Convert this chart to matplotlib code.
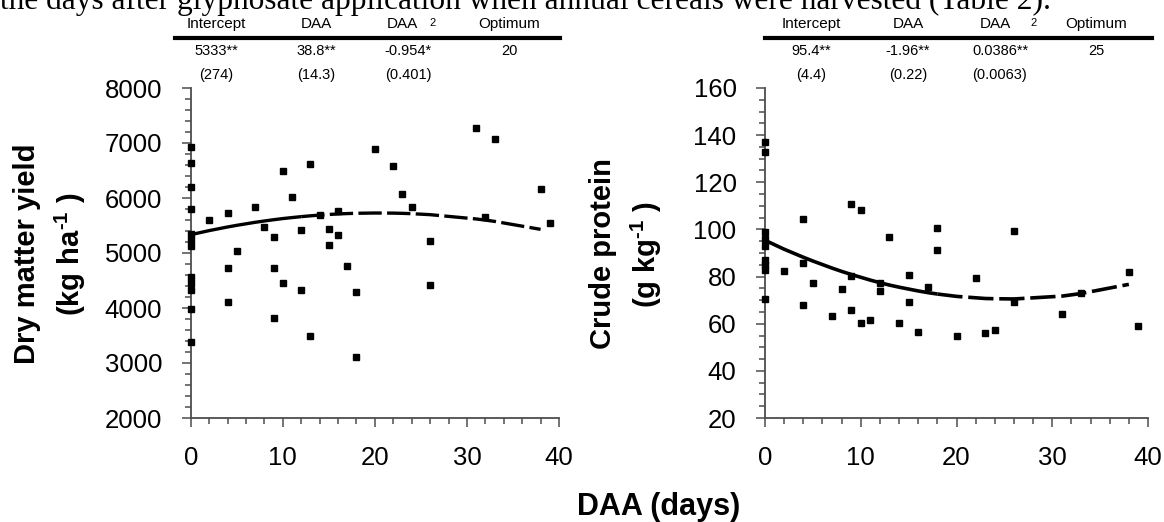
import matplotlib
matplotlib.use('Agg')
import matplotlib.pyplot as plt
from matplotlib.ticker import MultipleLocator
from matplotlib.lines import Line2D

W, H = 1164, 522

# dry matter yield (kg/ha) vs days after application
dm_days = [0, 0, 0, 0, 0, 0, 0, 0, 0, 0, 0, 0,
           2, 4, 4, 4, 5, 7, 8, 9, 9, 9, 10, 10, 11, 12, 12, 13, 13, 14, 15, 15,
           16, 16, 17, 18, 18, 20, 22, 23, 24, 26, 26, 31, 32, 33, 38, 39]
dm_yield = [6930, 6640, 6200, 5800, 5340, 5230, 5120, 4560, 4450, 4330, 3980, 3390,
            5600, 5730, 4725, 4110, 5030, 5840, 5470, 5300, 4725, 3810, 6490, 4450,
            6020, 5410, 4320, 6620, 3490, 5700, 5440, 5140, 5770, 5320, 4755, 4290,
            3110, 6890, 6590, 6070, 5840, 5215, 4410, 7270, 5660, 7080, 6160, 5540]

# crude protein (g/kg)
cp_days = [0, 0, 0, 0, 0, 0, 0, 0, 0,
           2, 4, 4, 4, 5, 7, 8, 9, 9, 9, 10, 10, 11, 12, 12, 13, 14, 15, 15, 16, 17,
           18, 18, 20, 22, 23, 24, 26, 26, 31, 33, 38, 39]
cp_val = [137, 133, 99, 96, 93, 87, 85, 83, 70.5,
          82.5, 104.6, 85.8, 68, 77.3, 63.4, 74.7, 110.9, 80.1, 66, 108.3, 60.3, 61.6,
          77.3, 73.7, 96.9, 60.3, 80.5, 69.2, 56.5, 75.4, 100.8, 91.4, 54.7, 79.4,
          55.9, 57.2, 99.5, 69.2, 64.1, 73, 81.8, 59]

# fitted curves
fit_days_dm = [0, 2, 4, 5, 7, 8, 9, 10, 11, 12, 13, 14, 15, 16, 17, 18, 20, 22, 23, 24,
               26, 31, 32, 33, 38]
fit_dm = [5333, 5407, 5473, 5503, 5558, 5582, 5605, 5626, 5644, 5661, 5676, 5689, 5700,
          5710, 5717, 5722, 5727, 5725, 5721, 5715, 5697, 5619, 5598, 5575, 5430]
fit_days_cp = [0, 2, 4, 5, 7, 8, 9, 10, 11, 12, 13, 14, 15, 16, 17, 18, 20, 22, 23, 24,
               26, 31, 33, 38]
fit_cp = [95.4, 91.6, 88.2, 86.6, 83.6, 82.2, 80.9, 79.7, 78.5, 77.4, 76.4, 75.5, 74.7,
          73.9, 73.2, 72.6, 71.6, 71.0, 70.7, 70.6, 70.5, 71.7, 72.8, 76.7]

# regression tables
tab_head = ['Intercept', 'DAA', 'DAA', 'Optimum']
dm_coef = ['5333**', '38.8**', '-0.954*', '20']
dm_se = ['(274)', '(14.3)', '(0.401)']
cp_coef = ['95.4**', '-1.96**', '0.0386**', '25']
cp_se = ['(4.4)', '(0.22)', '(0.0063)']


def fx(px):
    return px / W


def fy(py):
    return 1 - py / H


SANS = ['Liberation Sans', 'DejaVu Sans']
plt.rcParams['font.family'] = SANS
plt.rcParams['mathtext.fontset'] = 'custom'
plt.rcParams['mathtext.rm'] = 'Liberation Sans:bold'
plt.rcParams['mathtext.bf'] = 'Liberation Sans:bold'

fig = plt.figure(figsize=(W / 100, H / 100), dpi=100)

ax1 = fig.add_axes([fx(190.7), fy(418), fx(559) - fx(190.7), fy(88) - fy(418)])
ax2 = fig.add_axes([fx(765), fy(418), fx(1148) - fx(765), fy(88) - fy(418)])

axc = '#4d4d4d'
for ax in (ax1, ax2):
    for s in ('top', 'right'):
        ax.spines[s].set_visible(False)
    for s in ('left', 'bottom'):
        ax.spines[s].set_color(axc)
        ax.spines[s].set_linewidth(1.3)
    ax.set_xlim(0, 40)
    ax.xaxis.set_major_locator(MultipleLocator(10))
    ax.xaxis.set_minor_locator(MultipleLocator(2))
    ax.tick_params(which='major', direction='out', length=6.5, width=1.1, color=axc,
                   labelsize=18.5, pad=14)
    ax.tick_params(which='minor', direction='out', length=4.2, width=1.1, color=axc)
    ax.patch.set_alpha(0)

ax1.set_ylim(2000, 8000)
ax1.yaxis.set_major_locator(MultipleLocator(1000))
ax1.yaxis.set_minor_locator(MultipleLocator(200))
ax2.set_ylim(20, 160)
ax2.yaxis.set_major_locator(MultipleLocator(20))
ax2.yaxis.set_minor_locator(MultipleLocator(5))

ax1.plot(dm_days, dm_yield, 's', color='black', ms=5, clip_on=False, zorder=3)
ax2.plot(cp_days, cp_val, 's', color='black', ms=5, clip_on=False, zorder=3)

# fitted lines: solid start, long dashes after
ax1.plot(fit_days_dm[:10], fit_dm[:10], '-', color='black', lw=2.4, zorder=4,
         solid_capstyle='butt')
ax1.plot(fit_days_dm[9:], fit_dm[9:], color='black', lw=2.4, zorder=4,
         linestyle=(0, (7, 1.6)), dash_capstyle='butt')
ax2.plot(fit_days_cp[:16], fit_cp[:16], '-', color='black', lw=2.6, zorder=4,
         solid_capstyle='butt')
ax2.plot(fit_days_cp[15:], fit_cp[15:], color='black', lw=2.6, zorder=4,
         linestyle=(0, (7, 1.6)), dash_capstyle='butt')

# axis labels
lab = dict(rotation=90, rotation_mode='anchor', ha='center', va='baseline',
           fontsize=21, fontweight='bold')
fig.text(fx(35), fy(254), 'Dry matter yield', **lab)
fig.text(fx(80), fy(254), r'(kg ha$^{\text{-1}}$ )', **lab)
fig.text(fx(611), fy(254), 'Crude protein', **lab)
fig.text(fx(656), fy(254), r'(g kg$^{\text{-1}}$ )', **lab)
fig.text(fx(577), fy(515), 'DAA (days)', fontsize=22, fontweight='bold',
         ha='left', va='baseline')

# clipped body text at the top
fig.text(fx(0), fy(9), 'the days after glyphosate application when annual cereals '
         'were harvested (Table 2).', family=['Liberation Serif', 'DejaVu Serif'],
         fontsize=22.6, ha='left', va='baseline')


def draw_table(cols, dcol, sup_x, line_x, coef, se):
    for i, h in enumerate(tab_head):
        x = dcol if i == 2 else cols[i]
        fig.text(fx(x), fy(28), h, fontsize=11, ha='center', va='baseline')
    fig.text(fx(sup_x), fy(25.5), '2', fontsize=8, ha='left', va='baseline')
    fig.add_artist(Line2D([fx(line_x[0]), fx(line_x[1])], [fy(38), fy(38)],
                          color='black', lw=3, transform=fig.transFigure))
    for i, c in enumerate(coef):
        fig.text(fx(cols[i]), fy(55), c, fontsize=10.5, ha='center', va='baseline')
    for i, s in enumerate(se):
        fig.text(fx(cols[i]), fy(79), s, fontsize=10.5, ha='center', va='baseline')


draw_table([216, 316, 408, 509], 402, 429, (175, 560), dm_coef, dm_se)
draw_table([811, 908, 1000, 1096], 995, 1030, (765, 1152), cp_coef, cp_se)

fig.savefig('out.png', dpi=100)
